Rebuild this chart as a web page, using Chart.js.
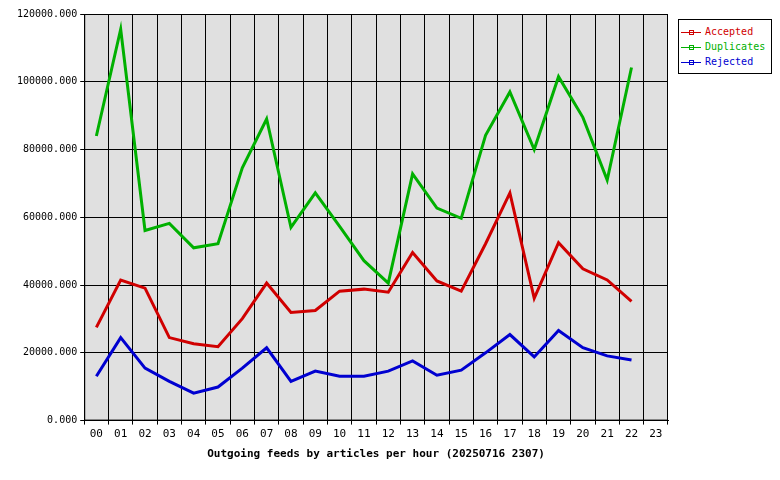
<!DOCTYPE html>
<html><head><meta charset="utf-8">
<script src="https://cdn.jsdelivr.net/npm/chart.js"></script>
<style>
body{margin:0;background:#fff;}
#wrap{position:relative;width:780px;height:480px;}
#legend{position:absolute;left:678px;top:19px;width:94px;height:55px;border:1px solid #000;background:#fff;font:10px "DejaVu Sans Mono",monospace;box-sizing:border-box;padding-top:5px}
#legend div{height:15px;line-height:14px;position:relative;padding-left:26px}
#legend span{position:absolute;left:2px;top:7px;width:20px;height:1px}
#legend i{position:absolute;left:10px;top:5px;width:3px;height:3px;border:1px solid}
</style></head><body>
<div id="wrap"><canvas id="c" width="780" height="480"></canvas>
<div id="legend">
<div style="color:#d00000"><span style="background:#d00000"></span><i></i>Accepted</div>
<div style="color:#00b000"><span style="background:#00b000"></span><i></i>Duplicates</div>
<div style="color:#0000d0"><span style="background:#0000d0"></span><i></i>Rejected</div>
</div></div>
<script>
const hours=["00","01","02","03","04","05","06","07","08","09","10","11","12","13","14","15","16","17","18","19","20","21","22","23"];
const accepted=[27500,41500,39100,24500,22700,21800,30100,40600,31900,32500,38200,38800,37900,49600,41200,38200,52200,67200,36100,52500,44800,41500,35200,null];
const duplicates=[84000,115500,56100,58200,51000,52200,74600,89000,57000,67200,57300,47200,40600,72800,62700,59700,84200,97000,80000,101500,89500,71000,104200,null];
const rejected=[13100,24500,15500,11600,8100,9900,15500,21500,11600,14600,13100,13100,14600,17600,13400,14900,20000,25400,18800,26600,21500,19100,17900,null];
const yTicks=[0,20000,40000,60000,80000,100000,120000];
const font={family:'"DejaVu Sans Mono", monospace',size:10};
const xfont={family:'"DejaVu Sans Mono", monospace',size:11};
const bg={id:'bg',beforeDraw(ch){const a=ch.chartArea,x=ch.ctx;x.save();x.fillStyle='#e0e0e0';x.fillRect(a.left,a.top,a.right-a.left,a.bottom-a.top);x.restore();},
afterDraw(ch){const a=ch.chartArea,x=ch.ctx;x.save();x.strokeStyle='#000';x.lineWidth=1;x.strokeRect(a.left+0.5,a.top+0.5,a.right-a.left-1,a.bottom-a.top-1);x.restore();}};
const ds=(l,d,c)=>({label:l,data:d,borderColor:c,borderWidth:3,pointRadius:0,tension:0,fill:false,spanGaps:false});
new Chart(document.getElementById('c'),{type:'line',
data:{labels:hours,datasets:[ds('Duplicates',duplicates,'#00b000'),ds('Accepted',accepted,'#d00000'),ds('Rejected',rejected,'#0000d0')]},
options:{responsive:false,animation:false,
layout:{padding:{left:14,right:112,top:14,bottom:15}},
plugins:{legend:{display:false},tooltip:{enabled:false}},
scales:{
x:{offset:true,grid:{offset:true,color:'#000',drawTicks:true,tickLength:4},border:{color:'#000'},
ticks:{color:'#000',font:xfont,maxRotation:0,autoSkip:false},
title:{display:true,text:'Outgoing feeds by articles per hour (20250716 2307)',color:'#000',font:{...xfont,weight:'bold'},padding:{top:4}}},
y:{min:0,max:120000,afterBuildTicks(s){s.ticks=yTicks.map(v=>({value:v}));},grid:{color:'#000',tickLength:4},border:{color:'#000'},
ticks:{color:'#000',font,callback:v=>v.toFixed(3)}}}},
plugins:[bg]});
</script></body></html>
